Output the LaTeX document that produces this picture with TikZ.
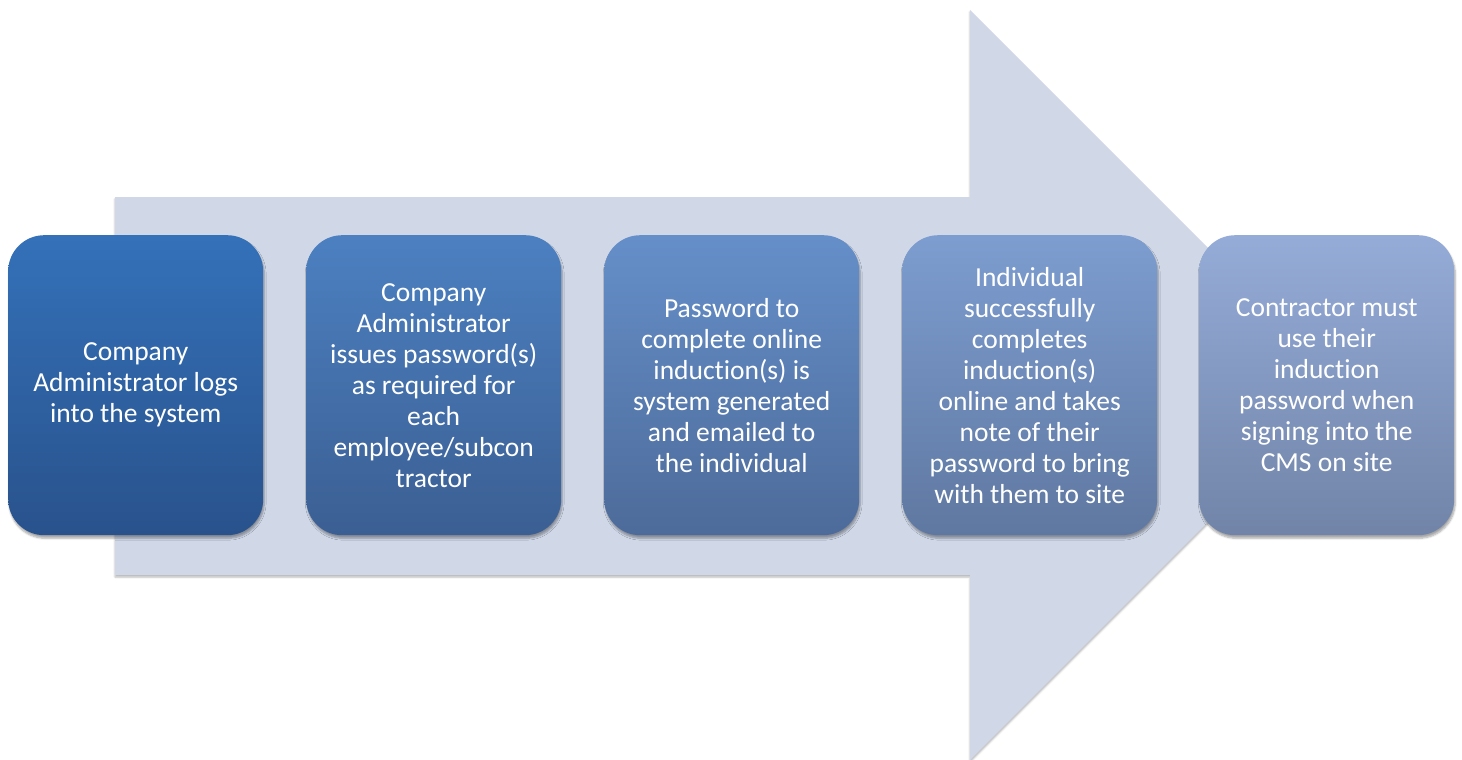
\documentclass[tikz,border=0pt]{standalone}
\usepackage{fontspec}
\setmainfont{Carlito}[Ligatures={NoCommon}]
\usetikzlibrary{shadows.blur}
\definecolor{arrowfill}{RGB}{208,216,232}
\definecolor{t1}{RGB}{52,113,185}\definecolor{b1}{RGB}{41,82,140}
\definecolor{t2}{RGB}{76,128,193}\definecolor{b2}{RGB}{59,95,147}
\definecolor{t3}{RGB}{101,143,201}\definecolor{b3}{RGB}{77,107,154}
\definecolor{t4}{RGB}{125,157,208}\definecolor{b4}{RGB}{95,120,161}
\definecolor{t5}{RGB}{149,172,216}\definecolor{b5}{RGB}{113,132,168}
\tikzset{
  stepbox/.style={rounded corners=36pt, minimum width=255pt, minimum height=300pt,
    inner sep=0pt, anchor=north west, text=white, align=center,
    font=\fontsize{27.5}{31}\selectfont,
    blur shadow={shadow xshift=1pt, shadow yshift=-3pt, shadow opacity=35, shadow blur steps=6}},
  bigarrow/.style={fill=arrowfill,
    blur shadow={shadow xshift=0pt, shadow yshift=-2pt, shadow opacity=30, shadow blur steps=4}}
}
\begin{document}
\begin{tikzpicture}[x=1pt,y=-1pt]
\useasboundingbox (0,0) rectangle (1462,760);
\fill[bigarrow] (115,197) -- (970,197) -- (970,10) -- (1345,385) -- (970,760) -- (970,575) -- (115,575) -- cycle;
\node[stepbox, top color=t1, bottom color=b1] (s1) at (8,235) {Company\\Administrator logs\\into the system};
\node[stepbox, top color=t2, bottom color=b2] (s2) at (306,235) {Company\\Administrator\\issues password(s)\\as required for\\each\\employee/subcon\\tractor};
\node[stepbox, top color=t3, bottom color=b3] (s3) at (604,235) {Password to\\complete online\\induction(s) is\\system generated\\and emailed to\\the individual};
\node[stepbox, top color=t4, bottom color=b4] (s4) at (902,235) {Individual\\successfully\\completes\\induction(s)\\online and takes\\note of their\\password to bring\\with them to site};
\node[stepbox, top color=t5, bottom color=b5] (s5) at (1199,235) {Contractor must\\use their\\induction\\password when\\signing into the\\CMS on site};
\end{tikzpicture}
\end{document}
